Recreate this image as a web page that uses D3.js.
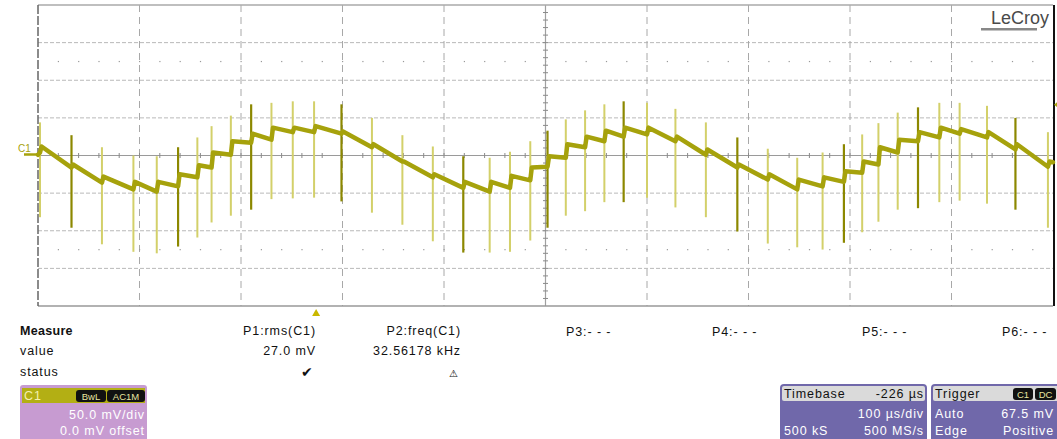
<!DOCTYPE html>
<html>
<head>
<meta charset="utf-8">
<script src="https://cdn.jsdelivr.net/npm/d3@7"></script>
<style>
  body { margin: 0; background: #fff; }
  svg { display: block; font-family: "Liberation Sans", Arial, sans-serif; }
</style>
</head>
<body>
<div id="scope"></div>
<script>
// spike times (us, relative to trigger) and their top / bottom levels (mV)
const spikeT  = [-272, -241, -211, -180, -157, -136, -117, -103, -84, -64, -44, -23, -2, 25, 55, 85, 115, 145, 171, 191, 211, 228, 246, 265, 284, 303, 326, 354, 384, 415, 445, 474, 499, 520, 538, 554, 573, 593, 614, 634, 661, 689, 721];
const spikeHi = [44, 27, 11, 0, -1, 11, 24, 39, 53, 68, 70, 72, 72, 68, 50, 27, 12, -1, -3, 5, 19, 33, 48, 60, 68, 72, 70, 62, 44, 24, 9, -3, 4, 15, 28, 43, 57, 64, 70, 70, 66, 50, 31];
const spikeLo = [-82, -96, -118, -128, -130, -121, -109, -89, -80, -72, -58, -57, -56, -61, -76, -92, -114, -129, -129, -128, -113, -96, -80, -74, -62, -62, -56, -69, -82, -101, -117, -122, -125, -116, -102, -88, -72, -70, -62, -60, -64, -72, -96];
// trace level just before and just after each spike (mV)
const waveBefore = [4, -16, -36, -45, -48, -41, -29, -16, 1, 17, 21, 31, 31, 29, 11, -8, -29, -43, -48, -43, -33, -15, -3, 11, 19, 25, 28, 19, 1, -16, -32, -45, -41, -35, -23, -12, 4, 19, 24, 29, 24, 8, -15];
const waveAfter  = [12, -12, -28, -35, -35, -25, -13, 4, 19, 29, 37, 37, 39, 32, 15, -8, -25, -35, -35, -27, -16, -1, 15, 25, 33, 37, 37, 25, 8, -12, -25, -32, -29, -21, -8, 11, 21, 31, 37, 35, 31, 15, -8];
const waveStart = [-274, 1];
const waveEnd = [726, -9];

const triggerLevel = 67.5;   // mV
const timeDomain = [-274, 726];
const voltDomain = [-200, 200];

const measHeads  = ["P1:rms(C1)", "P2:freq(C1)"];
const measValues = ["27.0 mV", "32.56178 kHz"];
const measStatus = ["\u2714", "\u26a0"];
const emptyParams = ["P3:- - -", "P4:- - -", "P5:- - -", "P6:- - -"];

const W = 1057, H = 439;
const svg = d3.select("#scope").append("svg").attr("width", W).attr("height", H);

const L = 38, R = 1053, T = 5, B = 306;
const x = d3.scaleLinear().domain(timeDomain).range([L, R]);
const y = d3.scaleLinear().domain(voltDomain).range([B, T]);

const trace = "#a6a20c";
const gridCol = "#b9b9b9";
const FS = 12.5, LS = 0.9;

// ---- graticule
const xDivs = d3.range(timeDomain[0], timeDomain[1] + 1, 100);
const yDivs = d3.range(voltDomain[0], voltDomain[1] + 1, 50);

const g = svg.append("g");
g.selectAll("line.hg").data(yDivs.filter(v => v !== 0 && Math.abs(v) !== 200)).enter().append("line")
  .attr("x1", L).attr("x2", R).attr("y1", d => y(d)).attr("y2", d => y(d))
  .attr("stroke", gridCol).attr("stroke-dasharray", "4,2");
g.selectAll("line.vg").data(xDivs.slice(1, -1).filter((d, i) => i !== 4)).enter().append("line")
  .attr("y1", T).attr("y2", B).attr("x1", d => x(d)).attr("x2", d => x(d))
  .attr("stroke", "#a8a8a8").attr("stroke-dasharray", "7,5");

// dotted rows at +/-2.5 div
const subX = d3.range(timeDomain[0] + 20, timeDomain[1], 20);
[-125, 125].forEach(v => {
  g.selectAll(null).data(subX).enter().append("rect")
    .attr("x", d => x(d) - 0.5).attr("y", y(v) - 0.5).attr("width", 1.2).attr("height", 1.2)
    .attr("fill", "#999");
});

// centre axes with small ticks
g.append("line").attr("x1", L).attr("x2", R).attr("y1", y(0)).attr("y2", y(0))
  .attr("stroke", "#9a9a9a").attr("stroke-width", 1.2);
g.append("line").attr("y1", T).attr("y2", B).attr("x1", x(226)).attr("x2", x(226))
  .attr("stroke", "#a0a0a0").attr("stroke-width", 1.2);
g.selectAll(null).data(subX).enter().append("line")
  .attr("x1", d => x(d)).attr("x2", d => x(d)).attr("y1", y(0) - 2.5).attr("y2", y(0) + 2.5)
  .attr("stroke", "#8a8a8a");
g.selectAll(null).data(d3.range(voltDomain[0] + 10, voltDomain[1], 10)).enter().append("line")
  .attr("y1", d => y(d)).attr("y2", d => y(d)).attr("x1", x(226) - 2.5).attr("x2", x(226) + 2.5)
  .attr("stroke", "#8a8a8a");

// frame
g.append("line").attr("x1", L).attr("x2", R).attr("y1", T).attr("y2", T).attr("stroke", "#aaa").attr("stroke-width", 1.5);
g.append("line").attr("x1", L).attr("x2", R).attr("y1", B).attr("y2", B).attr("stroke", "#999").attr("stroke-width", 1.5);
g.append("line").attr("x1", L).attr("x2", L).attr("y1", T).attr("y2", B).attr("stroke", "#666").attr("stroke-width", 1.5).attr("stroke-dasharray", "9,2");
g.append("line").attr("x1", R + 1).attr("x2", R + 1).attr("y1", T).attr("y2", B).attr("stroke", "#111").attr("stroke-width", 2);

// ---- waveform
const pts = [waveStart];
spikeT.forEach((t, i) => {
  pts.push([t, waveBefore[i]]);
  pts.push([t + 1.5, waveAfter[i]]);
});
pts.push(waveEnd);

svg.append("g").selectAll("line").data(spikeT).enter().append("line")
  .attr("x1", d => x(d)).attr("x2", d => x(d))
  .attr("y1", (d, i) => y(spikeHi[i])).attr("y2", (d, i) => y(spikeLo[i]))
  .attr("stroke", (d, i) => i % 4 === 1 ? "#8c8800" : "#d3d06a")
  .attr("stroke-width", (d, i) => i % 4 === 1 ? 2.2 : 2);

svg.append("path").datum(pts)
  .attr("d", d3.line().x(d => x(d[0])).y(d => y(d[1])))
  .attr("fill", "none").attr("stroke", trace).attr("stroke-width", 4.5)
  .attr("stroke-linejoin", "round").attr("stroke-linecap", "round");

// markers
svg.append("text").attr("x", 18).attr("y", 152).attr("fill", trace).attr("font-size", 10).text("C1");
svg.append("line").attr("x1", 24).attr("x2", L).attr("y1", y(0) - 1).attr("y2", y(0) - 1).attr("stroke", trace).attr("stroke-width", 2.5);
svg.append("path").attr("d", `M${R + 1},${y(triggerLevel)} l5,-4 v8 z`).attr("fill", trace);
svg.append("path").attr("d", `M${x(0)},${B + 3} l-4,7 h8 z`).attr("fill", "#c9b800");

// logo
svg.append("text").attr("x", 1049).attr("y", 24).attr("text-anchor", "end")
  .attr("font-size", 18).attr("fill", "#4a4a4a").text("LeCroy");
svg.append("rect").attr("x", 981).attr("y", 28).attr("width", 56).attr("height", 2.5).attr("fill", "#888");

// ---- measure table
const tx = svg.append("g").attr("font-size", FS).attr("letter-spacing", LS).attr("fill", "#111");
tx.append("text").attr("x", 20).attr("y", 335).attr("font-weight", "bold").attr("letter-spacing", 0.3).text("Measure");
tx.append("text").attr("x", 20).attr("y", 355).text("value");
tx.append("text").attr("x", 20).attr("y", 376).text("status");
const colX = [316, 461];
measHeads.forEach((h, i) => {
  tx.append("text").attr("x", colX[i]).attr("y", 335).attr("text-anchor", "end").text(h);
  tx.append("text").attr("x", colX[i]).attr("y", 355).attr("text-anchor", "end").text(measValues[i]);
  tx.append("text").attr("x", colX[i] - 2).attr("y", 377).attr("text-anchor", "end")
    .attr("font-size", i === 0 ? 14 : 10).text(measStatus[i]);
});
const emptyX = [566, 712, 862, 1002];
emptyParams.forEach((p, i) => {
  tx.append("text").attr("x", emptyX[i]).attr("y", 336).text(p);
});

// ---- info boxes
function badge(parent, bx, by, w, label) {
  parent.append("rect").attr("x", bx).attr("y", by).attr("width", w).attr("height", 12).attr("rx", 3).attr("fill", "#111");
  parent.append("text").attr("x", bx + w / 2).attr("y", by + 9.5).attr("text-anchor", "middle")
    .attr("font-size", 9.5).attr("letter-spacing", 0).attr("fill", "#e8e4a0").text(label);
}

// channel box
const c1 = svg.append("g").attr("font-size", FS).attr("letter-spacing", LS);
c1.append("rect").attr("x", 20).attr("y", 385).attr("width", 127).attr("height", 60).attr("rx", 3).attr("fill", "#c79bd1");
c1.append("rect").attr("x", 22).attr("y", 388).attr("width", 123).attr("height", 15).attr("fill", "#b3af14");
c1.append("text").attr("x", 24).attr("y", 400).attr("fill", "#f4f0b0").text("C1");
badge(c1, 76, 390, 30, "BwL");
badge(c1, 107, 390, 38, "AC1M");
c1.append("text").attr("x", 145).attr("y", 419).attr("text-anchor", "end").attr("fill", "#fff").text("50.0 mV/div");
c1.append("text").attr("x", 145).attr("y", 435).attr("text-anchor", "end").attr("fill", "#fff").text("0.0 mV offset");

// timebase box
const tb = svg.append("g").attr("font-size", FS).attr("letter-spacing", LS);
tb.append("rect").attr("x", 780).attr("y", 384).attr("width", 147).attr("height", 60).attr("rx", 4).attr("fill", "#7068aa");
tb.append("rect").attr("x", 782).attr("y", 386).attr("width", 143).attr("height", 15).attr("rx", 2).attr("fill", "#dadada");
tb.append("text").attr("x", 784).attr("y", 398).attr("fill", "#111").text("Timebase");
tb.append("text").attr("x", 924).attr("y", 398).attr("text-anchor", "end").attr("fill", "#111").text("-226 \u00b5s");
tb.append("text").attr("x", 924).attr("y", 418).attr("text-anchor", "end").attr("fill", "#fff").text("100 \u00b5s/div");
tb.append("text").attr("x", 784).attr("y", 435).attr("fill", "#fff").text("500 kS");
tb.append("text").attr("x", 924).attr("y", 435).attr("text-anchor", "end").attr("fill", "#fff").text("500 MS/s");

// trigger box
const tr = svg.append("g").attr("font-size", FS).attr("letter-spacing", LS);
tr.append("rect").attr("x", 931).attr("y", 384).attr("width", 140).attr("height", 60).attr("rx", 4).attr("fill", "#7068aa");
tr.append("rect").attr("x", 933).attr("y", 386).attr("width", 140).attr("height", 15).attr("rx", 2).attr("fill", "#dadada");
tr.append("text").attr("x", 935).attr("y", 398).attr("fill", "#111").text("Trigger");
badge(tr, 1013, 388, 20, "C1");
badge(tr, 1035, 388, 21, "DC");
tr.append("text").attr("x", 935).attr("y", 418).attr("fill", "#fff").text("Auto");
tr.append("text").attr("x", 1054).attr("y", 418).attr("text-anchor", "end").attr("fill", "#fff").text("67.5 mV");
tr.append("text").attr("x", 935).attr("y", 435).attr("fill", "#fff").text("Edge");
tr.append("text").attr("x", 1054).attr("y", 435).attr("text-anchor", "end").attr("fill", "#fff").text("Positive");
</script>
</body>
</html>
